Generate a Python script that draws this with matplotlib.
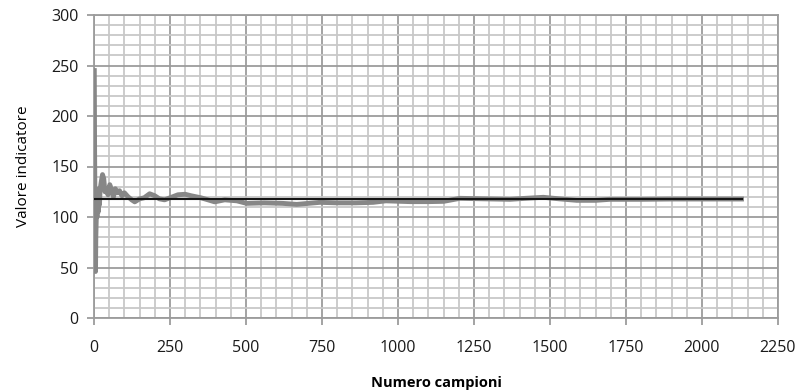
import matplotlib
matplotlib.use("Agg")
import matplotlib.pyplot as plt
from matplotlib.ticker import MultipleLocator

# Running value of the indicator versus number of samples
campioni = [1, 2, 3, 4, 5, 6, 8, 10, 12, 14, 16, 18, 20, 24, 28, 32, 36, 40,
            46, 52, 58, 64, 70, 78, 84, 92, 100, 112, 124, 134, 150, 165, 183,
            200, 215, 232, 250, 276, 300, 320, 352, 375, 397, 430, 470, 502,
            560, 620, 667, 743, 800, 860, 918, 960, 1040, 1100, 1150, 1204,
            1280, 1368, 1420, 1478, 1530, 1588, 1650, 1697, 1800, 1900, 2000,
            2130]
valore = [245, 166, 120, 60, 46, 80, 105, 100, 118, 105, 128, 112, 127, 135,
          142, 138, 125, 128, 122, 132, 126, 120, 128, 124, 126, 121, 124, 120,
          117, 115, 118, 119, 123, 121, 118, 117, 119, 122, 122.5, 121, 119,
          117, 115, 117, 116, 113.5, 114, 113.5, 112.5, 114.5, 114, 114, 114.5,
          116, 115.2, 115.2, 115.5, 118.5, 118, 117.5, 118.5, 119.5, 118,
          116.5, 116.5, 117.5, 117.5, 117.8, 117.8, 117.8]

# Reference level
riferimento_x = [0, 2130]
riferimento_y = [117.5, 117.5]

x_ticks = [0, 250, 500, 750, 1000, 1250, 1500, 1750, 2000, 2250]
y_ticks = [0, 50, 100, 150, 200, 250, 300]

plt.rcParams['font.family'] = ['Open Sans', 'DejaVu Sans']

fig = plt.figure(figsize=(7.98, 3.91), dpi=100)
ax = fig.add_axes([94 / 798, 1 - 318 / 391, (778 - 94) / 798, (318 - 15) / 391])

ax.set_xlim(0, 2250)
ax.set_ylim(0, 300)
ax.set_xticks(x_ticks)
ax.set_yticks(y_ticks)
ax.xaxis.set_minor_locator(MultipleLocator(50))
ax.yaxis.set_minor_locator(MultipleLocator(10))

ax.grid(which='minor', color='#c8c8c8', linewidth=1.3)
ax.grid(which='major', color='#9c9c9c', linewidth=1.3)
ax.set_axisbelow(True)

ax.plot(campioni, valore, color='#878787', linewidth=3.5, solid_joinstyle='round',
        zorder=3)
ax.plot(riferimento_x, riferimento_y, color='#151515', linewidth=1.5, zorder=4)

for side in ['top', 'right', 'left', 'bottom']:
    ax.spines[side].set_color('#9c9c9c')
    ax.spines[side].set_linewidth(1.3)

ax.tick_params(axis='both', which='minor', length=0)
ax.tick_params(axis='y', which='major', length=5, color='#9c9c9c', width=1.3,
               labelsize=11.5, labelcolor='#1a1a1a', pad=6)
ax.tick_params(axis='x', which='major', length=5, color='#9c9c9c', width=1.3,
               labelsize=11.5, labelcolor='#1a1a1a', pad=11)

ax.set_xlabel('Numero campioni', fontsize=10.5, fontweight='bold', labelpad=14)
ax.set_ylabel('Valore indicatore', fontsize=11, labelpad=15)

fig.savefig('out.png', dpi=100, facecolor='white')
